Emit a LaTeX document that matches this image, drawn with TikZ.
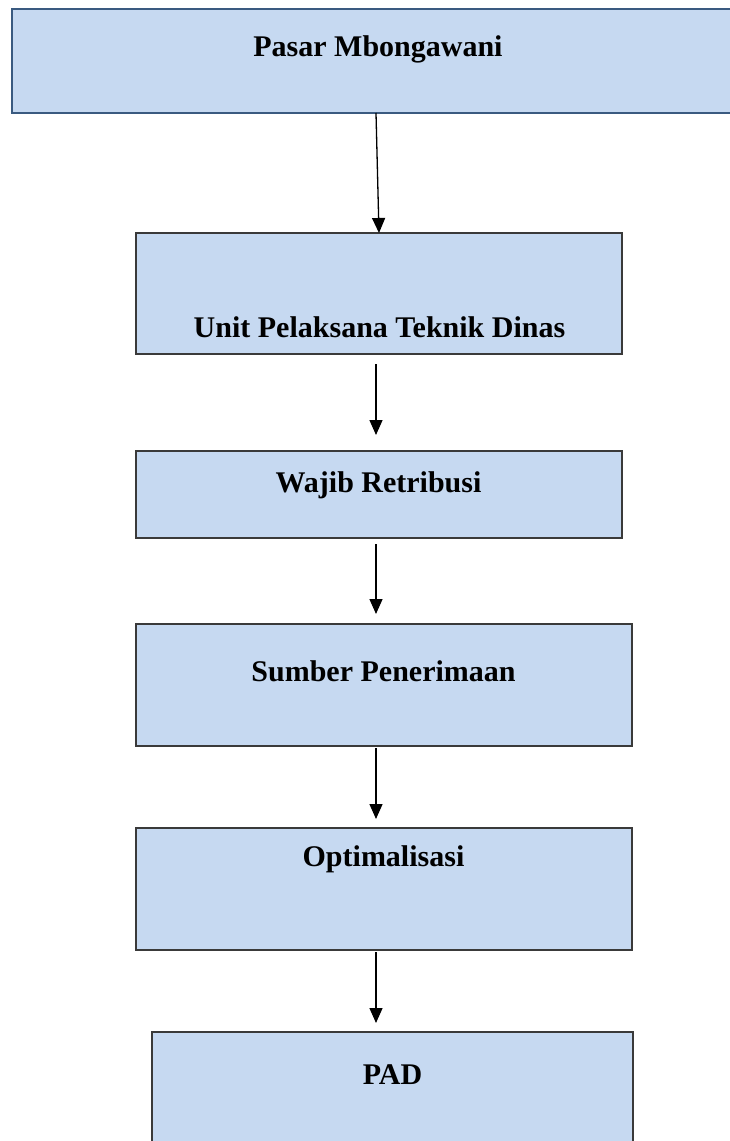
\documentclass[tikz,border=0pt]{standalone}
\usepackage{fontspec}
\setmainfont{Liberation Serif}
\usetikzlibrary{arrows.meta,calc}
\definecolor{boxfill}{HTML}{C6D9F1}
\definecolor{topline}{HTML}{3A5A80}
\definecolor{boxline}{HTML}{3A3A3A}
\begin{document}
\begin{tikzpicture}[x=1pt,y=-1pt,
  box/.style={draw=boxline, line width=1.2pt, fill=boxfill, rectangle, inner sep=0pt, outer sep=0pt},
  lbl/.style={font=\bfseries\fontsize{30}{36}\selectfont, anchor=base, inner sep=0pt},
  arr/.style={line width=1.3pt, -{Triangle[length=15pt,width=13pt]}}]
\useasboundingbox (0,0) rectangle (730,1141);
\clip (0,0) rectangle (730,1141);
\coordinate (ax) at (376,0);
\coordinate (axa) at (379,0);
\node[box, draw=topline, line width=1.5pt, minimum width=733pt, minimum height=104pt] (b1) at (378.5,61) {};
\node[box, minimum width=486pt, minimum height=121pt] (b2) at (379,293.5) {};
\node[box, minimum width=486pt, minimum height=87pt] (b3) at (379,494.5) {};
\node[box, minimum width=496pt, minimum height=122pt] (b4) at (384,685) {};
\node[box, minimum width=496pt, minimum height=122pt] (b5) at (384,889) {};
\node[box, minimum width=481pt, minimum height=118pt] (b6) at (392.5,1091) {};
\node[lbl] (t1) at (378,56) {Pasar Mbongawani};
\node[lbl] (t2) at (379.5,337) {Unit Pelaksana Teknik Dinas};
\node[lbl] (t3) at (378.5,492) {Wajib Retribusi};
\node[lbl] (t4) at (383.5,681) {Sumber Penerimaan};
\node[lbl] (t5) at (383.5,866) {Optimalisasi};
\node[lbl] (t6) at (392.5,1084) {PAD};
\draw[arr] (b1.south -| ax) -- (b2.north -| axa);
\draw[arr, shorten <=10pt, shorten >=16pt] (b2.south -| ax) -- (b3.north -| ax);
\draw[arr, shorten <=6pt, shorten >=10pt] (b3.south -| ax) -- (b4.north -| ax);
\draw[arr, shorten <=2pt, shorten >=9pt] (b4.south -| ax) -- (b5.north -| ax);
\draw[arr, shorten <=2pt, shorten >=9pt] (b5.south -| ax) -- (b6.north -| ax);
\end{tikzpicture}
\end{document}
